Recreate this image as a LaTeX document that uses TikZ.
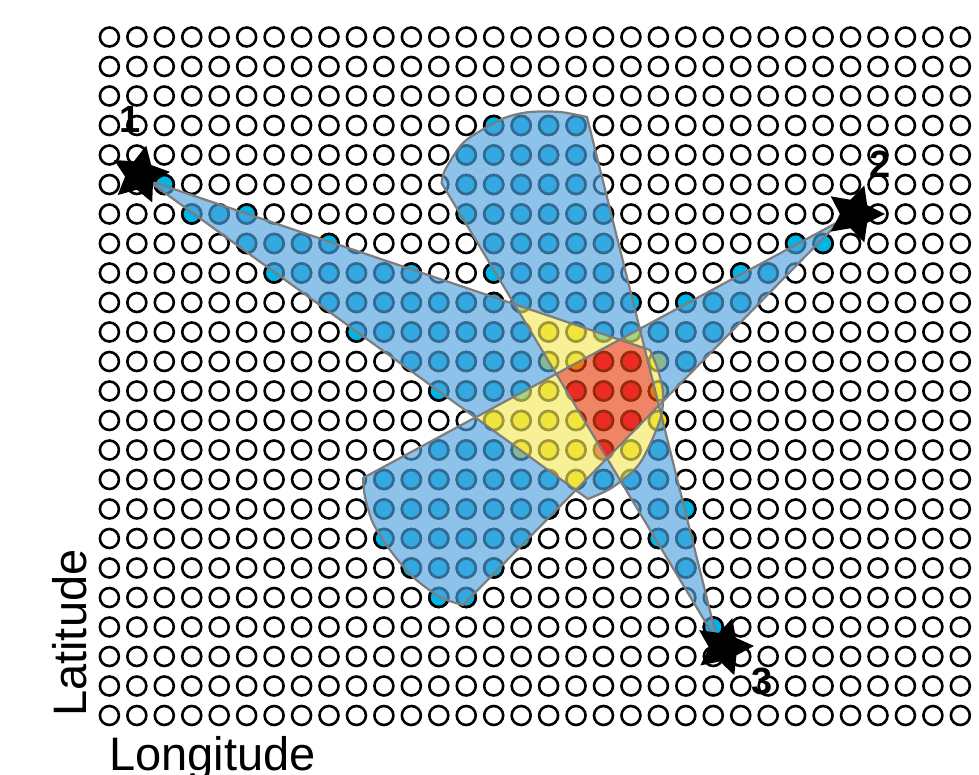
\documentclass[tikz,border=0pt]{standalone}
\usepackage{fontspec}
\setmainfont{Liberation Sans}
\usetikzlibrary{shapes.geometric}
\definecolor{ovblue}{RGB}{80,163,223}
\definecolor{ovyellow}{RGB}{243,233,93}
\definecolor{ovred}{RGB}{232,69,20}
\definecolor{cblue}{RGB}{0,180,229}
\definecolor{cyellow}{RGB}{240,224,0}
\definecolor{cred}{RGB}{246,0,66}
\definecolor{edgegray}{RGB}{125,125,125}
\def\wA{(147,180) -- plot[smooth] coordinates {(650,350) (658,370) (663,393) (660,420) (640,463) (613,487) (588,499)} -- cycle}
\def\wB{(840,221) -- plot[smooth] coordinates {(363,478) (365,497) (373,523) (390,550) (413,577) (440,597) (463,605)} -- cycle}
\def\wC{(718,643) -- plot[smooth] coordinates {(441.7,183.3) (445,170) (463,143) (487,127) (507,117) (530,112) (560,112) (587,117)} -- cycle}
\begin{document}
\begin{tikzpicture}[x=1pt,y=-1pt,
  dot/.style={draw=black, line width=2.6pt, fill=white},
  wedgeline/.style={draw=edgegray, line width=2.2pt, line join=round},
  starmark/.style={star, star points=5, star point ratio=2.0, fill=black, draw=none, minimum size=60pt, inner sep=0pt},
  numlabel/.style={font=\fontsize{38}{40}\selectfont\bfseries, inner sep=0pt},
  axislabel/.style={font=\fontsize{47}{52}\selectfont, inner sep=0pt}]
\useasboundingbox (0,0) rectangle (979,775);
\fill[white] (0,0) rectangle (979,775);
% grid of nodes
\foreach \i in {0,...,31}{\foreach \k in {0,...,23}{
  \draw[dot] ({109.4+27.45*\i},{37+29.5*\k}) circle[radius=9.5];}}
% blue grid nodes
\foreach \k/\l in {3/{14,...,17},4/{13,...,17},5/{2,13,14,15,16,17},6/{3,4,5,13,14,15,16,17,18},
  7/{5,6,7,8,14,15,16,17,18,25,26},8/{6,7,8,9,10,11,14,15,16,17,18,23,24},
  9/{8,...,19,21,22,23},10/{9,...,15,18,19,20,21,22},11/{11,...,15,21},12/{12,...,15},
  14/{12,13,14,20},15/{10,...,16,18,19,20},16/{10,...,16,20,21},17/{10,...,15,20,21},
  18/{11,...,14,21},19/{12,13},20/{22}}{
  \foreach \i in \l {\draw[dot, fill=cblue] ({109.4+27.45*\i},{37+29.5*\k}) circle[radius=9.5];}}
% yellow grid nodes
\foreach \k/\l in {10/{16,17},11/{16,17,20},12/{16,20},13/{14,15,16,17,20},14/{15,16,17,19},15/{17}}{
  \foreach \i in \l {\draw[dot, fill=cyellow] ({109.4+27.45*\i},{37+29.5*\k}) circle[radius=9.5];}}
% red grid nodes
\foreach \k/\l in {11/{18,19},12/{17,18,19},13/{18,19},14/{18}}{
  \foreach \i in \l {\draw[dot, fill=cred] ({109.4+27.45*\i},{37+29.5*\k}) circle[radius=9.5];}}
% translucent wedges
\begin{scope}[transparency group, opacity=0.65]
  \fill[ovblue] \wA;
  \fill[ovblue] \wB;
  \fill[ovblue] \wC;
  \begin{scope}\clip \wA; \fill[ovyellow] \wB; \fill[ovyellow] \wC;\end{scope}
  \begin{scope}\clip \wB; \fill[ovyellow] \wC;\end{scope}
  \begin{scope}\clip \wA; \clip \wB; \fill[ovred] \wC;\end{scope}
\end{scope}
\draw[wedgeline] \wA;
\draw[wedgeline] \wB;
\draw[wedgeline] \wC;
% stations
\node[starmark, rotate=-12] (s1) at (140,175) {};
\node[starmark, rotate=-18] (s2) at (855,214) {};
\node[starmark, rotate=-16] (s3) at (724,647) {};
\node[numlabel] (n1) at (130,119) {1};
\node[numlabel] (n2) at (880,164) {2};
\node[numlabel] (n3) at (762,681) {3};
% axis labels
\node[axislabel, anchor=base west] (lon) at (109,770) {Longitude};
\node[axislabel, rotate=90, anchor=base west] (lat) at (86,717) {Latitude};
\end{tikzpicture}
\end{document}
